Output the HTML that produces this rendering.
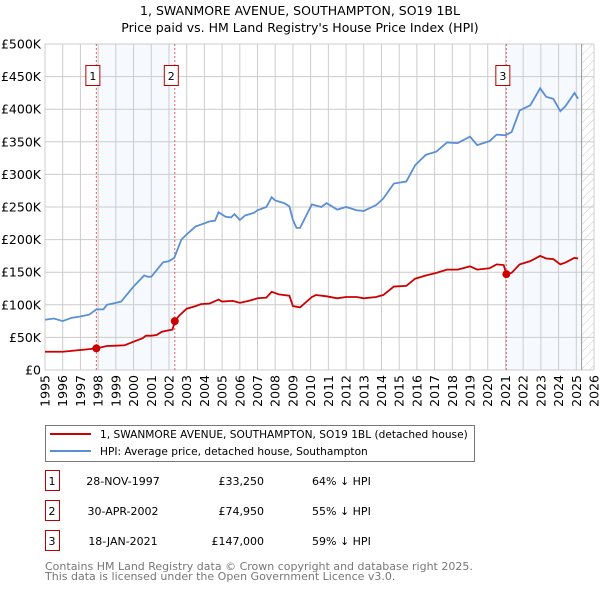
<!DOCTYPE html>
<html><head><meta charset="utf-8"><style>
body{margin:0;background:#fff;font-family:"Liberation Sans","DejaVu Sans",sans-serif;}
svg text{font-family:"DejaVu Sans","Liberation Sans",sans-serif;}
</style></head><body>
<svg id="chart" width="600" height="590" xmlns="http://www.w3.org/2000/svg">
<defs><pattern id="hatch" width="6" height="6" patternUnits="userSpaceOnUse" patternTransform="rotate(45)"><line x1="0" y1="0" x2="0" y2="6" stroke="#bbb" stroke-width="0.8"/></pattern></defs>
<text x="300" y="15" text-anchor="middle" font-size="12.5" fill="#000">1, SWANMORE AVENUE, SOUTHAMPTON, SO19 1BL</text>
<text x="300" y="32" text-anchor="middle" font-size="12.5" fill="#000">Price paid vs. HM Land Registry's House Price Index (HPI)</text>
<g id="plot"></g>
<rect x="45.5" y="425.5" width="429" height="36" fill="#fff" stroke="#777"/>
<line x1="50" y1="434" x2="91" y2="434" stroke="#cc0000" stroke-width="2"/>
<text x="100" y="438" font-size="10.6">1, SWANMORE AVENUE, SOUTHAMPTON, SO19 1BL (detached house)</text>
<line x1="50" y1="451" x2="91" y2="451" stroke="#5b8fd4" stroke-width="2"/>
<text x="100" y="455" font-size="10.6">HPI: Average price, detached house, Southampton</text>
<g id="table" font-size="11"></g>
<text x="45" y="570" font-size="11" fill="#777">Contains HM Land Registry data © Crown copyright and database right 2025.</text>
<text x="45" y="580" font-size="11" fill="#777">This data is licensed under the Open Government Licence v3.0.</text>
</svg>
<script>
const hpiYears=[1995,1995.5,1996,1996.5,1997,1997.5,1997.9,1998.3,1998.5,1999,1999.3,2000,2000.6,2000.8,2001,2001.66,2002,2002.3,2002.7,2003,2003.5,2004,2004.3,2004.6,2004.8,2005.2,2005.5,2005.7,2006,2006.3,2006.8,2007,2007.5,2007.8,2008,2008.5,2008.8,2009,2009.2,2009.4,2010.07,2010.6,2010.9,2011.5,2012,2012.6,2013,2013.7,2014.1,2014.7,2015.4,2015.9,2016.5,2017.1,2017.7,2018.3,2019,2019.4,2020.1,2020.5,2021,2021.35,2021.8,2022.4,2022.96,2023.3,2023.7,2024.1,2024.4,2024.9,2025.1];
const hpiValues=[77,79,75,80,82,85,93,93,100,103,105,128,145,143,143,165,167,172,200,208,220,225,228,229,242,235,234,239,230,237,241,245,250,265,260,256,251,230,218,218,254,250,256,246,250,245,244,253,263,286,289,314,330,335,349,348,358,345,351,361,360,365,398,406,432,419,416,397,405,425,416];
const ppYears=[1995,1996,1997,1997.5,1997.9,1998.5,1999,1999.5,2000,2000.5,2000.7,2001,2001.3,2001.6,2002,2002.2,2002.33,2002.6,2003,2003.5,2003.8,2004.3,2004.8,2005,2005.6,2006,2006.5,2007,2007.5,2007.8,2008.2,2008.8,2009,2009.4,2010.07,2010.3,2010.9,2011.5,2012,2012.6,2013,2013.7,2014.1,2014.7,2015.4,2015.9,2016.5,2017.1,2017.7,2018.3,2019,2019.4,2020.1,2020.5,2020.9,2021.05,2021.35,2021.8,2022.4,2022.96,2023.3,2023.7,2024.1,2024.4,2024.9,2025.1];
const ppValues=[28,28,30.7,32,33.25,36.8,37.3,38,43.4,48.5,52.6,52.6,53.6,58.7,61,62,74.95,84,94,98,101,102,108,105,106,103,106,110,111,120,116,114,98,96,112,115,113,110,112,112,110,112,115,128,129,140,145,149,154,154,159,154,156,162,161,147,149,162,167,175,171,170,162,165,172,171];
const saleYears=[1997.9,2002.33,2021.05];
const saleValues=[33.25,74.95,147];
const saleLabels=["1","2","3"];
const saleDates=["28-NOV-1997","30-APR-2002","18-JAN-2021"];
const salePrices=["£33,250","£74,950","£147,000"];
const saleDiffs=["64% ↓ HPI","55% ↓ HPI","59% ↓ HPI"];
const yTicks=[0,50,100,150,200,250,300,350,400,450,500];
const yTickLabels=["£0","£50K","£100K","£150K","£200K","£250K","£300K","£350K","£400K","£450K","£500K"];
const xTicks=[1995,1996,1997,1998,1999,2000,2001,2002,2003,2004,2005,2006,2007,2008,2009,2010,2011,2012,2013,2014,2015,2016,2017,2018,2019,2020,2021,2022,2023,2024,2025,2026];
const dataEnd=2025.3;

const X0=45,X1=594,Y0=370,Y1=44;
const sx=y=>X0+(y-1995)/(2026-1995)*(X1-X0);
const sy=v=>Y0-v/500*(Y0-Y1);
const NS="http://www.w3.org/2000/svg";
const plot=document.getElementById('plot');
function mk(tag,attrs,parent){const e=document.createElementNS(NS,tag);for(const k in attrs)e.setAttribute(k,attrs[k]);(parent||plot).appendChild(e);return e;}

let r=mk('rect',{x:sx(saleYears[0]),y:Y1,width:sx(saleYears[1])-sx(saleYears[0]),height:Y0-Y1,fill:'#f0f5fd',opacity:0.6});


r=mk('rect',{x:sx(saleYears[2]),y:Y1,width:sx(dataEnd)-sx(saleYears[2]),height:Y0-Y1,fill:'#f0f5fd',opacity:0.6});


r=mk('rect',{x:sx(dataEnd),y:Y1,width:X1-sx(dataEnd),height:Y0-Y1,fill:'url(#hatch)'});



yTicks.forEach((v,i)=>{
 const l=mk('line',{x1:X0,x2:X1,y1:sy(v),y2:sy(v),stroke:'#ccc','stroke-width':1});
 
 
 const t=mk('text',{x:X0-4,y:sy(v)+4.5,'text-anchor':'end','font-size':12.5});
 t.textContent=yTickLabels[i];
 
 
});
xTicks.forEach(y=>{
 const l=mk('line',{x1:sx(y),x2:sx(y),y1:Y1,y2:Y0,stroke:'#ccc','stroke-width':1});
 
 
 const t=mk('text',{x:0,y:0,'text-anchor':'end','font-size':12.5,transform:`translate(${sx(y)+4.5},${Y0+5}) rotate(-90)`});
 t.textContent=y;
 
 
});
let el=mk('line',{x1:sx(dataEnd),x2:sx(dataEnd),y1:Y1,y2:Y0,stroke:'#999','stroke-width':1});



saleYears.forEach((y,i)=>{
 const l=mk('line',{x1:sx(y),x2:sx(y),y1:Y1,y2:Y0,stroke:'#e06060','stroke-width':1,'stroke-dasharray':'2,2'});
 
 
 const b=mk('rect',{x:sx(y)-10.5,y:65.5,width:14,height:20,fill:'#fff',stroke:'#b00','stroke-width':1});
 
 
 const t=mk('text',{x:sx(y)-3.5,y:80,'text-anchor':'middle','font-size':11});
 t.textContent=saleLabels[i];
 
 
});

const hp=mk('polyline',{points:hpiYears.map((y,i)=>sx(y)+','+sy(hpiValues[i])).join(' '),fill:'none',stroke:'#5b8fd4','stroke-width':1.8});


const pp=mk('polyline',{points:ppYears.map((y,i)=>sx(y)+','+sy(ppValues[i])).join(' '),fill:'none',stroke:'#cc0000','stroke-width':1.8});


saleYears.forEach((y,i)=>{
 const c=mk('circle',{cx:sx(y),cy:sy(saleValues[i]),r:4,fill:'#cc0000'});
 
 
});

const tb=document.getElementById('table');
saleLabels.forEach((s,i)=>{
 const yy=483+i*30;
 const b=mk('rect',{x:45.5,y:yy-12.5,width:14,height:20,fill:'#fff',stroke:'#b00'},tb);
 
 
 const cols=[[52,'middle',s],[123,'middle',saleDates[i]],[264,'end',salePrices[i]],[312,'start',saleDiffs[i]]];
 cols.forEach(c=>{
  const t=mk('text',{x:c[0],y:yy+2,'text-anchor':c[1]},tb);
  t.textContent=c[2];
  
  
 });
});
</script>
</body></html>
